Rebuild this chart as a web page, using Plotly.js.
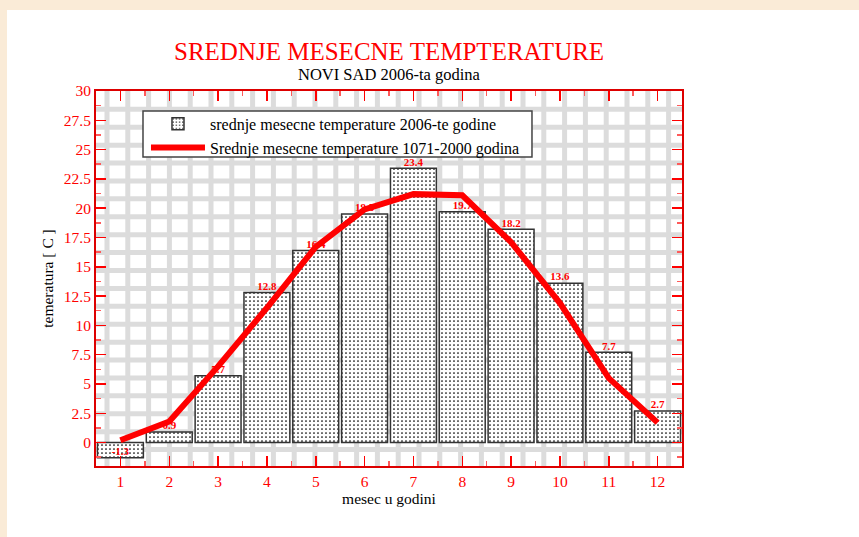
<!DOCTYPE html>
<html><head><meta charset="utf-8">
<script src="https://cdn.plot.ly/plotly-3.0.1.min.js"></script>
<style>
html,body{margin:0;padding:0;background:#FAEBD7;width:859px;height:537px;overflow:hidden}
#chart{position:absolute;left:7px;top:10px;width:852px;height:527px;background:#fff}
</style>
</head><body><div id="chart"></div>
<script>
const months = [1,2,3,4,5,6,7,8,9,10,11,12];
const temps2006 = [-1.3,0.9,5.7,12.8,16.4,19.5,23.4,19.7,18.2,13.6,7.7,2.7];
const temps1971_2000 = [0.2,1.8,6.5,11.5,16.7,19.9,21.2,21.1,17.1,11.9,5.5,1.7];
const barLabels = temps2006.map(v => v.toFixed(1));
const barName = 'srednje mesecne temperature 2006-te godine';
const lineName = 'Srednje mesecne temperature 1071-2000 godina';
const yTickVals = [0,2.5,5,7.5,10,12.5,15,17.5,20,22.5,25,27.5,30];
const yTickText = ['0','2.5','5','7.5','10','12.5','15','17.5','20','22.5','25','27.5','30'];

const SERIF = 'Liberation Serif, Times New Roman, serif';

// decorative background grid (paper coordinates of the plot area)
const PW = 586, PH = 375;
const shapes = [];
for (let k = 0; k < 28; k++) {
  const xp = (11 + k * 20.8) / PW;
  shapes.push({type: 'line', xref: 'paper', yref: 'paper', x0: xp, x1: xp, y0: 0, y1: 1,
    layer: 'below', line: {color: '#dcdcdc', width: 5}});
}
for (let k = 0; k < 20; k++) {
  const yp = (16.4 + k * 17.91) / PH;
  shapes.push({type: 'line', xref: 'paper', yref: 'paper', x0: 0, x1: 1, y0: yp, y1: yp,
    layer: 'below', line: {color: '#dcdcdc', width: 5}});
}
// legend frame
shapes.push({type: 'rect', xref: 'paper', yref: 'paper', x0: 0.0802, x1: 0.744, y0: 0.824, y1: 0.9467,
  layer: 'above', fillcolor: '#ffffff', line: {color: '#444444', width: 1.5}});

const traces = [
  {
    type: 'bar', x: months, y: temps2006, name: barName,
    marker: {color: '#ffffff', line: {color: '#333333', width: 1.5},
      pattern: {shape: '.', fgcolor: '#000000', bgcolor: '#ffffff', size: 4, solidity: 0.15}},
    hoverinfo: 'skip'
  },
  {
    type: 'scatter', mode: 'text', x: months, y: temps2006, text: barLabels,
    textposition: 'top center', showlegend: false, cliponaxis: false,
    textfont: {family: SERIF, size: 11, color: '#ff0000', weight: 'bold'},
    hoverinfo: 'skip'
  },
  {
    type: 'scatter', mode: 'lines', x: months, y: temps1971_2000, name: lineName,
    line: {color: '#ff0000', width: 6}, hoverinfo: 'skip'
  }
];

const axTick = {color: '#ff0000', family: SERIF, size: 15.5};
const layout = {
  width: 852, height: 527,
  margin: {l: 89, r: 177, t: 81, b: 71},
  paper_bgcolor: '#ffffff', plot_bgcolor: '#ffffff',
  showlegend: true,
  bargap: 0.06,
  shapes: shapes,
  xaxis: {
    range: [0.5, 12.5], tickvals: months, ticktext: months.map(String),
    ticks: 'inside', ticklen: 10, tickwidth: 1.5, tickcolor: '#ff0000',
    minor: {dtick: 0.5, tick0: 0.5, ticks: 'inside', ticklen: 5, tickwidth: 1.5, tickcolor: '#ff5a5a'},
    showline: true, linecolor: '#dd0000', linewidth: 2, mirror: 'allticks',
    showgrid: false, zeroline: false, tickfont: axTick,
    title: {text: 'mesec u godini', font: {family: SERIF, size: 15.5, color: '#000'}, standoff: 4}
  },
  yaxis: {
    range: [-2, 30], tickvals: yTickVals, ticktext: yTickText,
    ticks: 'inside', ticklen: 10, tickwidth: 1.5, tickcolor: '#ff0000',
    minor: {dtick: 1.25, tick0: 0, ticks: 'inside', ticklen: 5, tickwidth: 1.5, tickcolor: '#ff5a5a'},
    showline: true, linecolor: '#dd0000', linewidth: 2, mirror: 'allticks',
    showgrid: false, zeroline: false, tickfont: axTick,
    title: {text: 'temeratura [ C ]', font: {family: SERIF, size: 15.5, color: '#000'}, standoff: 6}
  },
  legend: {
    x: 0.0853, y: 0.958, xanchor: 'left', yanchor: 'top',
    bgcolor: 'rgba(0,0,0,0)', borderwidth: 0,
    font: {family: SERIF, size: 16, color: '#000'}, itemwidth: 54
  },
  annotations: [
    {text: 'SREDNJE MESECNE TEMPTERATURE', xref: 'paper', yref: 'paper', x: 0.5, y: 1.104,
     xanchor: 'center', yanchor: 'middle', showarrow: false,
     font: {family: SERIF, size: 25, color: '#ff0000'}},
    {text: 'NOVI SAD 2006-ta godina', xref: 'paper', yref: 'paper', x: 0.5, y: 1.045,
     xanchor: 'center', yanchor: 'middle', showarrow: false,
     font: {family: SERIF, size: 16.5, color: '#000'}}
  ]
};

Plotly.newPlot('chart', traces, layout, {displayModeBar: false, staticPlot: true});
</script>
</body></html>
